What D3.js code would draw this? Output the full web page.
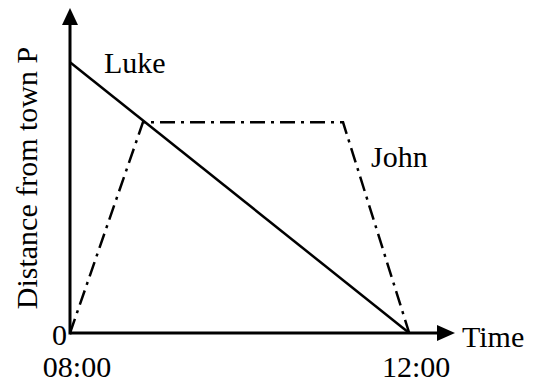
<!DOCTYPE html>
<html><head><meta charset="utf-8">
<script src="https://cdn.jsdelivr.net/npm/d3@7"></script>
<style>body{margin:0;background:#fff}svg{display:block}text{font-family:"Liberation Serif","Times New Roman",serif;font-size:30px;fill:#000}</style>
</head><body>
<script>
// Data (time in hours, distance in arbitrary units)
const lukeTimes = [8, 12];
const lukeDist = [36, 0];
const johnTimes = [8, 8.86, 11.22, 12];
const johnDist = [0, 28, 28, 0];
const tickTimes = [8, 12];
const tickLabels = ["08:00", "12:00"];
const seriesNames = ["Luke", "John"];

const W = 539, H = 383;
const svg = d3.select("body").append("svg").attr("width", W).attr("height", H);
const x = d3.scaleLinear().domain([8, 12.54]).range([70, 455]);
const y = d3.scaleLinear().domain([0, 43.2]).range([333, 8]);

const line = d3.line().x(d => x(d[0])).y(d => y(d[1]));

// axes
svg.append("line").attr("x1", x(8)).attr("y1", y(0)).attr("x2", x(12.54) - 14).attr("y2", y(0))
  .attr("stroke", "#000").attr("stroke-width", 3);
svg.append("line").attr("x1", x(8)).attr("y1", y(0) + 1.5).attr("x2", x(8)).attr("y2", y(43.2) + 14)
  .attr("stroke", "#000").attr("stroke-width", 3);
// arrowheads
const xe = x(12.54), ye = y(43.2);
svg.append("path").attr("d", `M${xe},${y(0)} L${xe-18},${y(0)-8} L${xe-18},${y(0)+8} Z`).attr("fill", "#000");
svg.append("path").attr("d", `M${x(8)},${ye} L${x(8)-8},${ye+17} L${x(8)+8},${ye+17} Z`).attr("fill", "#000");

// series
svg.append("path").datum(lukeTimes.map((t, i) => [t, lukeDist[i]])).attr("d", line)
  .attr("fill", "none").attr("stroke", "#000").attr("stroke-width", 2.5);
svg.append("path").datum(johnTimes.map((t, i) => [t, johnDist[i]])).attr("d", line)
  .attr("fill", "none").attr("stroke", "#000").attr("stroke-width", 2.5)
  .attr("stroke-dasharray", "15,6,3,6");

// labels
svg.append("text").attr("x", 104).attr("y", 73).text(seriesNames[0]);
svg.append("text").attr("x", 371).attr("y", 167).text(seriesNames[1]);
svg.append("text").attr("x", 462).attr("y", 347).text("Time");
svg.append("text").attr("x", 67).attr("y", 345).attr("text-anchor", "end").text("0");
tickTimes.forEach((t, i) => {
  svg.append("text").attr("x", x(t) + 7).attr("y", 377).attr("text-anchor", "middle").text(tickLabels[i]);
});
svg.append("text").attr("transform", "translate(37,178) rotate(-90)").attr("text-anchor", "middle")
  .text("Distance from town P");
</script>
</body></html>
